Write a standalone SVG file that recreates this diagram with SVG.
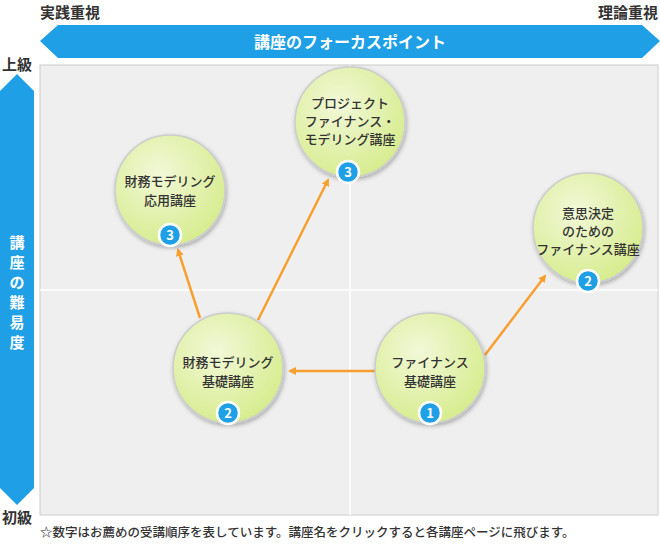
<svg xmlns="http://www.w3.org/2000/svg" width="660" height="550" viewBox="0 0 660 550">
<style>
.t{font-family:"Noto Sans CJK JP","Noto Sans",sans-serif;}
.lab{font-size:13px;fill:#333;text-anchor:middle;font-weight:500}
.ax{font-size:15px;fill:#333;font-weight:bold}
.c{fill:url(#g);stroke:#ccc;stroke-width:1.5}
.b{fill:#1e9fe6;stroke:#fff;stroke-width:2.5}
.bn{font-size:13px;fill:#fff;font-weight:bold;text-anchor:middle}
.e{stroke:#f7a030;stroke-width:2.5;fill:none;marker-end:url(#m)}
.v{font-size:15px;fill:#fff;text-anchor:middle;font-weight:bold}
</style>
<defs>
<radialGradient id="g" cx="0.4" cy="0.35" r="0.7"><stop offset="0" stop-color="#f2f8d8"/><stop offset="1" stop-color="#d6ec8c"/></radialGradient>
<marker id="m" markerWidth="8" markerHeight="8" refX="6" refY="4" orient="auto" markerUnits="userSpaceOnUse"><path d="M0,0L8,4L0,8z" fill="#f7a030"/></marker>
<filter id="s" x="-20%" y="-20%" width="140%" height="140%"><feDropShadow dx="1" dy="2" stdDeviation="2" flood-opacity="0.3"/></filter>
</defs>
<rect x="40" y="65" width="618" height="450" fill="#efefef" stroke="#ccc"/>
<line x1="350" y1="65" x2="350" y2="515" stroke="#fff" stroke-width="1.5"/>
<line x1="40" y1="290" x2="658" y2="290" stroke="#fff" stroke-width="1.5"/>
<polygon points="58,25 642,25 660,41 642,58 58,58 40,41" fill="#1e9fe6"/>
<text class="t" x="350" y="48" font-size="16" fill="#fff" text-anchor="middle" font-weight="bold">講座のフォーカスポイント</text>
<text class="t ax" x="40" y="18">実践重視</text>
<text class="t ax" x="658" y="18" text-anchor="end">理論重視</text>
<polygon points="17,74 34,91 34,488 17,505 0,488 0,91" fill="#1e9fe6"/>
<text class="t v" x="17" y="248">講</text>
<text class="t v" x="17" y="268">座</text>
<text class="t v" x="17" y="288">の</text>
<text class="t v" x="17" y="308">難</text>
<text class="t v" x="17" y="328">易</text>
<text class="t v" x="17" y="348">度</text>
<text class="t ax" x="2" y="70">上級</text>
<text class="t ax" x="2" y="523">初級</text>
<text class="t" x="40" y="537" font-size="12.5" fill="#333" font-weight="500">☆数字はお薦めの受講順序を表しています。講座名をクリックすると各講座ページに飛びます。</text>
<g id="edges">
<line class="e" x1="378" y1="371" x2="290" y2="371"/>
<line class="e" x1="485" y1="355" x2="545" y2="276"/>
<line class="e" x1="200" y1="318" x2="178" y2="250"/>
<line class="e" x1="258" y1="320" x2="328" y2="180"/>
</g>
<g id="n1"><circle class="c" cx="350" cy="122" r="55" filter="url(#s)"/><text class="t lab" x="350" y="108">プロジェクト</text><text class="t lab" x="350" y="126">ファイナンス・</text><text class="t lab" x="350" y="144">モデリング講座</text><circle class="b" cx="348" cy="172" r="11"/><text class="t bn" x="348" y="177">3</text></g>
<g id="n2"><circle class="c" cx="170" cy="190" r="55" filter="url(#s)"/><text class="t lab" x="170" y="186">財務モデリング</text><text class="t lab" x="170" y="205">応用講座</text><circle class="b" cx="170" cy="235" r="11"/><text class="t bn" x="170" y="240">3</text></g>
<g id="n3"><circle class="c" cx="588" cy="228" r="55" filter="url(#s)"/><text class="t lab" x="588" y="218">意思決定</text><text class="t lab" x="588" y="236">のための</text><text class="t lab" x="588" y="254">ファイナンス講座</text><circle class="b" cx="588" cy="281" r="11"/><text class="t bn" x="588" y="286">2</text></g>
<g id="n4"><circle class="c" cx="228" cy="368" r="55" filter="url(#s)"/><text class="t lab" x="228" y="367">財務モデリング</text><text class="t lab" x="228" y="386">基礎講座</text><circle class="b" cx="228" cy="413" r="11"/><text class="t bn" x="228" y="418">2</text></g>
<g id="n5"><circle class="c" cx="430" cy="368" r="55" filter="url(#s)"/><text class="t lab" x="430" y="367">ファイナンス</text><text class="t lab" x="430" y="386">基礎講座</text><circle class="b" cx="430" cy="413" r="11"/><text class="t bn" x="430" y="418">1</text></g>
</svg>
